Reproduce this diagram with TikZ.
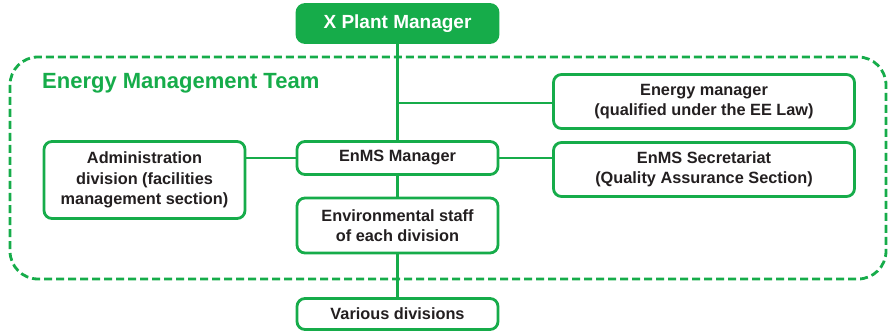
\documentclass[tikz,border=0pt]{standalone}
\usepackage{fontspec}
\setmainfont{Liberation Sans}
\definecolor{eg}{RGB}{22,172,74}
\definecolor{tx}{RGB}{35,31,32}
\begin{document}
\begin{tikzpicture}[x=1pt,y=-1pt,
  box/.style={draw=eg, line width=2.8pt, rounded corners=8pt, fill=white, align=center, font=\bfseries\fontsize{16.3}{20.5}\selectfont, text=tx, inner sep=0pt},
  conn/.style={draw=eg, line width=2.8pt}]
\useasboundingbox (0,0) rectangle (888,331);
\draw[eg, line width=2.8pt, dash pattern=on 8pt off 4pt, rounded corners=28pt] (10,57) rectangle (886,279);
\node[anchor=base west, text=eg, font=\bfseries\fontsize{22}{25}\selectfont, inner sep=0pt] (team) at (42,89) {Energy Management Team};
\node[box, fill=eg, text=white, minimum width=201pt, minimum height=38pt, font=\bfseries\fontsize{19}{22}\selectfont] (pm) at (397.5,23.5) {X Plant Manager};
\node[box, minimum width=301pt, minimum height=54pt] (em) at (704,101.5) {Energy manager\\(qualified under the EE Law)};
\node[box, minimum width=201pt, minimum height=33pt] (enms) at (397.5,158) {EnMS Manager};
\node[box, minimum width=201pt, minimum height=77pt] (adm) at (144.5,180) {Administration\\division (facilities\\management section)};
\node[box, minimum width=301pt, minimum height=54pt] (sec) at (704,169.5) {EnMS Secretariat\\(Quality Assurance Section)};
\node[box, minimum width=201pt, minimum height=55pt] (env) at (397.5,225.5) {Environmental staff\\of each division};
\node[box, minimum width=201pt, minimum height=31pt] (var) at (397.5,314) {Various divisions};
\coordinate (j) at (397.5,103);
\draw[conn] (pm.south) -- (enms.north);
\draw[conn] (j) -- (j -| em.west);
\draw[conn] (enms.south) -- (env.north);
\draw[conn] (env.south) -- (var.north);
\draw[conn] (adm.east |- enms.west) -- (enms.west);
\draw[conn] (enms.east) -- (sec.west |- enms.east);
\end{tikzpicture}
\end{document}
